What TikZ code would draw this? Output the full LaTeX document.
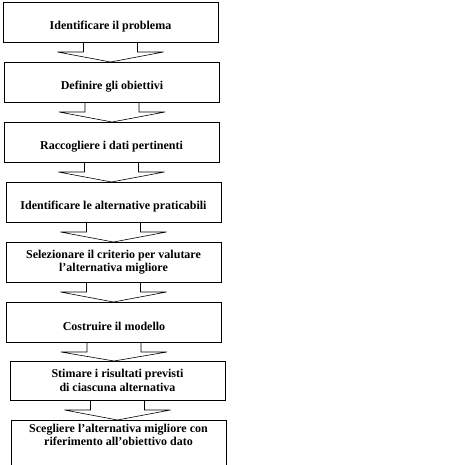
\documentclass[tikz,border=0pt]{standalone}
\usepackage{fontspec}
\setmainfont{Liberation Serif}
\usetikzlibrary{calc, positioning}

\begin{document}
\begin{tikzpicture}[x=1pt, y=1pt,
  stepbox/.style={draw, line width=0.6pt, outer sep=0pt, minimum width=215pt, minimum height=40pt,
    inner sep=2pt, align=center, font=\fontsize{12}{13.5}\selectfont\bfseries},
  oneline/.style={stepbox, text height=16pt, text depth=0pt}]
\useasboundingbox (0,0) rectangle (474,-465);
\node[oneline] (b1) at (110.5,-22) {Identificare il problema};
\node[oneline, below=20pt of b1, xshift=1.5pt] (b2) {Definire gli obiettivi};
\node[oneline, below=20pt of b2, xshift=-0.5pt] (b3) {Raccogliere i dati pertinenti};
\node[oneline, below=20pt of b3, xshift=2pt] (b4) {Identificare le alternative praticabili};
\node[stepbox, below=20pt of b4] (b5) {Selezionare il criterio per valutare\\l’alternativa migliore};
\node[oneline, below=20pt of b5, xshift=0.5pt] (b6) {Costruire il modello};
\node[stepbox, minimum height=39pt, below=19pt of b6, xshift=3.5pt] (b7) {Stimare i risultati previsti\\di ciascuna alternativa};
\node[stepbox, draw=none, minimum height=30pt, below=20pt of b7, xshift=1pt] (b8) {Scegliere l’alternativa migliore con\\riferimento all’obiettivo dato};
\draw[line width=0.6pt] ([yshift=-30pt]b8.south west) rectangle (b8.north east);
% block arrows between the steps
\draw[line width=0.6pt] ($(b1.south)+(-27,0)$) -- ++(0,-10) -- ++(-26,0) -- (b1.south |- b2.north) -- ($(b1.south)+(53,-10)$) -- ++(-26,0) -- ++(0,10);
\draw[line width=0.6pt] ($(b2.south)+(-27,0)$) -- ++(0,-10) -- ++(-26,0) -- (b2.south |- b3.north) -- ($(b2.south)+(53,-10)$) -- ++(-26,0) -- ++(0,10);
\draw[line width=0.6pt] ($(b3.south)+(-27,0)$) -- ++(0,-10) -- ++(-26,0) -- (b3.south |- b4.north) -- ($(b3.south)+(53,-10)$) -- ++(-26,0) -- ++(0,10);
\draw[line width=0.6pt] ($(b4.south)+(-27,0)$) -- ++(0,-10) -- ++(-26,0) -- (b4.south |- b5.north) -- ($(b4.south)+(53,-10)$) -- ++(-26,0) -- ++(0,10);
\draw[line width=0.6pt] ($(b5.south)+(-27,0)$) -- ++(0,-10) -- ++(-26,0) -- (b5.south |- b6.north) -- ($(b5.south)+(53,-10)$) -- ++(-26,0) -- ++(0,10);
\draw[line width=0.6pt] ($(b6.south)+(-27,0)$) -- ++(0,-10) -- ++(-26,0) -- (b6.south |- b7.north) -- ($(b6.south)+(53,-10)$) -- ++(-26,0) -- ++(0,10);
\draw[line width=0.6pt] ($(b7.south)+(-27,0)$) -- ++(0,-10) -- ++(-26,0) -- (b7.south |- b8.north) -- ($(b7.south)+(53,-10)$) -- ++(-26,0) -- ++(0,10);
\end{tikzpicture}
\end{document}
